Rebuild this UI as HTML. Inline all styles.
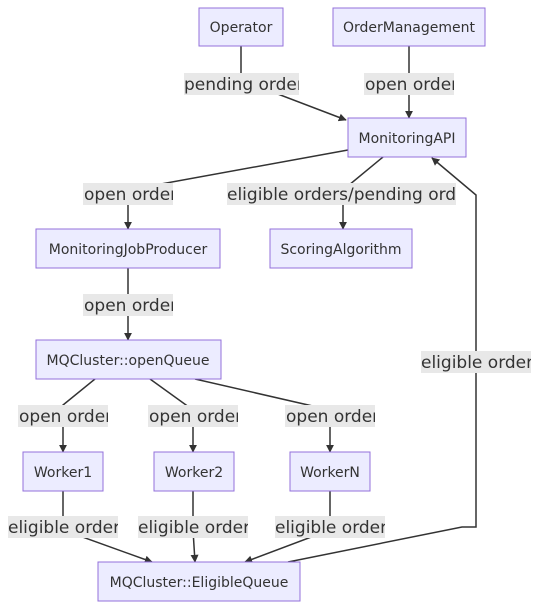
<!DOCTYPE html>
<html><head><meta charset="utf-8"><style>
html,body{margin:0;padding:0;background:#fff;width:540px;height:610px;overflow:hidden}
svg text{font-family:"DejaVu Sans","Liberation Sans",sans-serif;fill:#333}
.n{fill:#ECECFF;stroke:#9370DB;stroke-width:1}
.e{fill:none;stroke:#333;stroke-width:1.5}
.lb{fill:#e8e8e8}
.nt{font-size:14px}
.lt{font-size:17px}
</style></head><body>
<svg width="540" height="610" viewBox="0 0 540 610" xmlns="http://www.w3.org/2000/svg">
<defs><marker id="a" viewBox="0 0 10 10" refX="9" refY="5" markerWidth="8" markerHeight="8" orient="auto-start-reverse" markerUnits="userSpaceOnUse"><path d="M0,0 L10,5 L0,10 z" fill="#333"/></marker></defs>
<path class="e" d="M241,46 L241,80 L346,120" marker-end="url(#a)"/>
<path class="e" d="M409,46 L409,118" marker-end="url(#a)"/>
<path class="e" d="M348,150 L128,190 L128,229" marker-end="url(#a)"/>
<path class="e" d="M383,157 L343,190 L343,229" marker-end="url(#a)"/>
<path class="e" d="M128,268 L128,340" marker-end="url(#a)"/>
<path class="e" d="M95,379 L63,405 L63,452" marker-end="url(#a)"/>
<path class="e" d="M150,379 L193,410 L193,452" marker-end="url(#a)"/>
<path class="e" d="M195,379 L330,410 L330,452" marker-end="url(#a)"/>
<path class="e" d="M63,491 L63,530 L152,562" marker-end="url(#a)"/>
<path class="e" d="M193,491 L193,530 L195,562" marker-end="url(#a)"/>
<path class="e" d="M330,491 L330,530 L245,562" marker-end="url(#a)"/>
<path class="e" d="M288,562 L462,527 L476,527 L476,195 L432,158" marker-end="url(#a)"/>
<rect class="n" x="199" y="8" width="84" height="38"/><text class="nt" x="241" y="32" text-anchor="middle">Operator</text>
<rect class="n" x="333" y="8" width="152" height="38"/><text class="nt" x="409" y="32" text-anchor="middle">OrderManagement</text>
<rect class="n" x="348" y="118" width="118" height="39"/><text class="nt" x="407" y="143" text-anchor="middle">MonitoringAPI</text>
<rect class="n" x="36" y="229" width="184" height="39"/><text class="nt" x="128" y="254" text-anchor="middle">MonitoringJobProducer</text>
<rect class="n" x="270" y="229" width="142" height="39"/><text class="nt" x="341" y="254" text-anchor="middle">ScoringAlgorithm</text>
<rect class="n" x="36" y="340" width="185" height="39"/><text class="nt" x="128" y="365" text-anchor="middle">MQCluster::openQueue</text>
<rect class="n" x="23" y="452" width="80" height="39"/><text class="nt" x="63" y="477" text-anchor="middle">Worker1</text>
<rect class="n" x="154" y="452" width="80" height="39"/><text class="nt" x="194" y="477" text-anchor="middle">Worker2</text>
<rect class="n" x="290" y="452" width="80" height="39"/><text class="nt" x="330" y="477" text-anchor="middle">WorkerN</text>
<rect class="n" x="98" y="562" width="202" height="39"/><text class="nt" x="199" y="587" text-anchor="middle">MQCluster::EligibleQueue</text>
<svg x="184" y="73" width="115" height="22"><rect class="lb" width="115" height="22"/><text class="lt" x="0" y="17">pending order</text></svg>
<svg x="364" y="73" width="90" height="22"><rect class="lb" width="90" height="22"/><text class="lt" x="1" y="17">open order</text></svg>
<svg x="83" y="183" width="90" height="22"><rect class="lb" width="90" height="22"/><text class="lt" x="1" y="17">open order</text></svg>
<svg x="227" y="183" width="229" height="22"><rect class="lb" width="229" height="22"/><text class="lt" x="0" y="17">eligible orders/pending orders</text></svg>
<svg x="83" y="294" width="90" height="22"><rect class="lb" width="90" height="22"/><text class="lt" x="1" y="17">open order</text></svg>
<svg x="18" y="405" width="90" height="22"><rect class="lb" width="90" height="22"/><text class="lt" x="1" y="17">open order</text></svg>
<svg x="148" y="405" width="90" height="22"><rect class="lb" width="90" height="22"/><text class="lt" x="1" y="17">open order</text></svg>
<svg x="285" y="405" width="90" height="22"><rect class="lb" width="90" height="22"/><text class="lt" x="1" y="17">open order</text></svg>
<svg x="421" y="351" width="110" height="22"><rect class="lb" width="110" height="22"/><text class="lt" x="0" y="17">eligible order</text></svg>
<svg x="8" y="516" width="110" height="22"><rect class="lb" width="110" height="22"/><text class="lt" x="0" y="17">eligible order</text></svg>
<svg x="138" y="516" width="110" height="22"><rect class="lb" width="110" height="22"/><text class="lt" x="0" y="17">eligible order</text></svg>
<svg x="275" y="516" width="110" height="22"><rect class="lb" width="110" height="22"/><text class="lt" x="0" y="17">eligible order</text></svg>
</svg>
</body></html>
